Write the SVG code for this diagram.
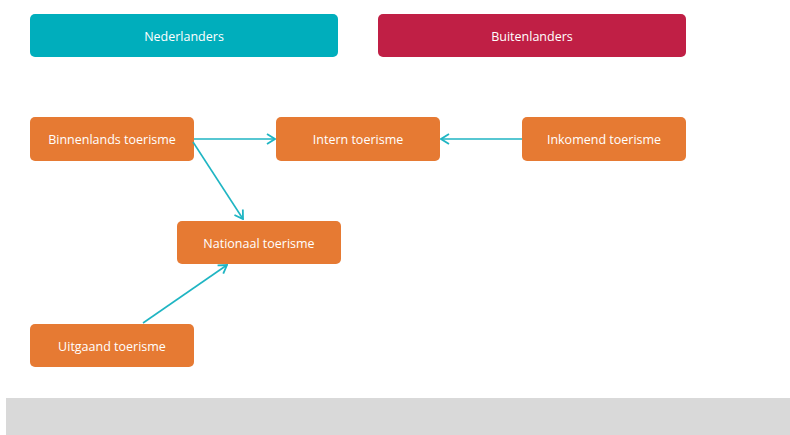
<svg xmlns="http://www.w3.org/2000/svg" width="790" height="435" viewBox="0 0 790 435">
<style>
.n{fill:#E67A33}
.t{font-family:"Open Sans","Liberation Sans",sans-serif;font-size:12.5px;fill:#FFFFFF;text-anchor:middle;dominant-baseline:central}
.c{stroke:#1FB5C3;stroke-width:1.6;fill:none}
</style>
<defs>
<marker id="a" viewBox="0 0 10 12" refX="9" refY="6" markerWidth="10" markerHeight="12" markerUnits="userSpaceOnUse" orient="auto">
<path d="M1,1 L9,6 L1,11" fill="none" stroke="#1FB5C3" stroke-width="1.8"/>
</marker>
</defs>
<rect x="6" y="398" width="784" height="37" fill="#D9D9D9"/>
<g id="nederlanders"><rect x="30" y="14" width="308" height="43" rx="5" fill="#00AEBC"/><text class="t" x="184" y="36">Nederlanders</text></g>
<g id="buitenlanders"><rect x="378" y="14" width="308" height="43" rx="5" fill="#C01F45"/><text class="t" x="532" y="36">Buitenlanders</text></g>
<g id="binnenlands"><rect class="n" x="30" y="117" width="164" height="44" rx="5"/><text class="t" x="112" y="139">Binnenlands toerisme</text></g>
<g id="intern"><rect class="n" x="276" y="117" width="164" height="44" rx="5"/><text class="t" x="358" y="139">Intern toerisme</text></g>
<g id="inkomend"><rect class="n" x="522" y="117" width="164" height="44" rx="5"/><text class="t" x="604" y="139">Inkomend toerisme</text></g>
<g id="nationaal"><rect class="n" x="177" y="221" width="164" height="43" rx="5"/><text class="t" x="259" y="243">Nationaal toerisme</text></g>
<g id="uitgaand"><rect class="n" x="30" y="324" width="164" height="43" rx="5"/><text class="t" x="112" y="346">Uitgaand toerisme</text></g>
<g id="connectors">
<line class="c" x1="194" y1="139" x2="275" y2="139" marker-end="url(#a)"/>
<line class="c" x1="522" y1="139" x2="441" y2="139" marker-end="url(#a)"/>
<line class="c" x1="193" y1="142" x2="243" y2="219" marker-end="url(#a)"/>
<line class="c" x1="143" y1="323" x2="227" y2="265" marker-end="url(#a)"/>
</g>
</svg>
